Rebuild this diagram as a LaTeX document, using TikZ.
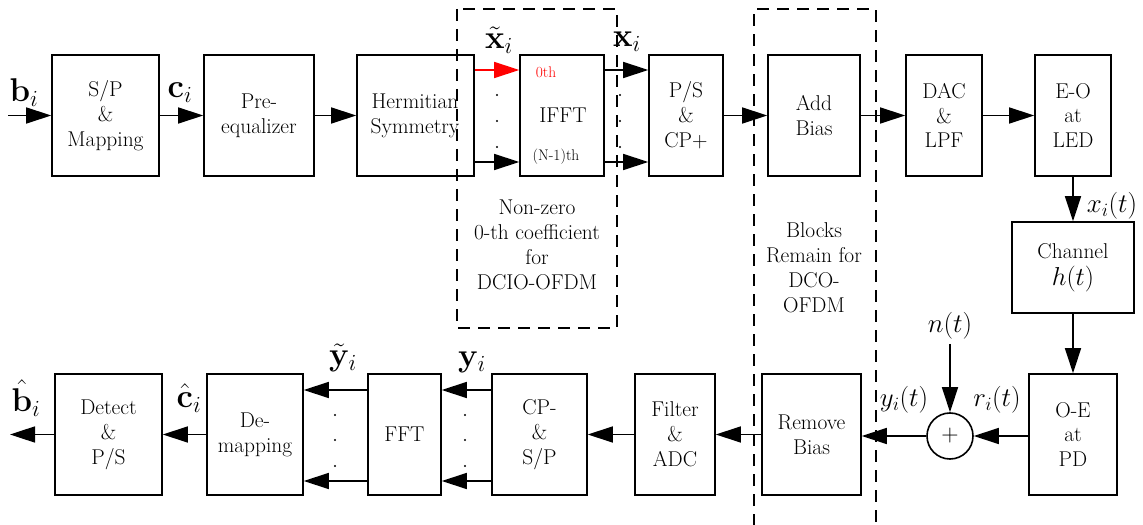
\documentclass[tikz,border=0pt]{standalone}
\usepackage{fix-cm}
\usetikzlibrary{arrows.meta}
\begin{document}
\begin{tikzpicture}[x=1bp,y=-1bp,
  blk/.style={draw,line width=1.6bp,inner sep=0pt,align=center,font=\fontsize{21.5}{25}\selectfont},
  arr/.style={line width=1.6bp,-{Triangle[length=25bp,width=16bp]}},
  lab/.style={inner sep=0pt,font=\fontsize{27}{32}\selectfont},
  blab/.style={inner sep=0pt,font=\fontsize{33}{38}\selectfont},
  small/.style={inner sep=0pt,font=\fontsize{15.5}{18}\selectfont},
  txt/.style={inner sep=0pt,align=center,font=\fontsize{21.5}{25}\selectfont},
  dbox/.style={line width=1.3bp,dash pattern=on 12bp off 8bp}]
\useasboundingbox (0,0) rectangle (1143,525);
% dashed boxes
\draw[dbox] (457,9) rectangle (617,328);
\draw[dbox] (754,526) -- (754,9) -- (876,9) -- (876,526);
% top row
\node[blk,minimum width=107bp,minimum height=121bp] (spm) at (105.5,115.5) {S/P\\\&\\Mapping};
\node[blk,minimum width=110bp,minimum height=121bp] (preeq) at (259,115.5) {Pre-\\equalizer};
\node[blk,minimum width=117bp,minimum height=121bp] (herm) at (415.5,115.5) {};
\node[txt] (hermt) at (415,115.5) {Hermitian\\Symmetry};
\node[blk,minimum width=84bp,minimum height=121bp] (ifft) at (562,115.5) {};
\node[txt] (iffttxt) at (563,115.5) {IFFT};
\node[small,text=red] (zeroth) at (546,72) {0th};
\node[small] (nth) at (556,157) {(N-1)th};
\node[blk,minimum width=74bp,minimum height=121bp] (ps) at (686,115.5) {P/S\\\&\\CP+};
\node[blk,minimum width=92bp,minimum height=121bp] (addb) at (814,115.5) {Add\\Bias};
\node[blk,minimum width=76bp,minimum height=121bp] (dac) at (944,115.5) {DAC\\\&\\LPF};
\node[blk,minimum width=76bp,minimum height=121bp] (eo) at (1073,115.5) {E-O\\at\\LED};
% right column
\node[blk,minimum width=122bp,minimum height=91bp] (chan) at (1073,267.5) {Channel\\[2bp]\fontsize{26}{30}\selectfont$h(t)$};
\node[blk,minimum width=88bp,minimum height=121bp] (oe) at (1073,434.5) {O-E\\at\\PD};
\node[draw,line width=1.6bp,circle,minimum size=46bp,inner sep=0pt] (sum) at (950,436) {};
\node[inner sep=0pt,font=\fontsize{24}{28}\selectfont] (plus) at (950,436) {$+$};
% bottom row
\node[blk,minimum width=99bp,minimum height=121bp] (rb) at (811.5,434.5) {Remove\\Bias};
\node[blk,minimum width=80bp,minimum height=121bp] (filt) at (675,434.5) {Filter\\\&\\ADC};
\node[blk,minimum width=95bp,minimum height=121bp] (cps) at (539.5,434.5) {CP-\\\&\\S/P};
\node[blk,minimum width=73bp,minimum height=121bp] (fft) at (404.5,434.5) {FFT};
\node[blk,minimum width=96bp,minimum height=121bp] (dem) at (255,434.5) {De-\\mapping};
\node[blk,minimum width=107bp,minimum height=121bp] (det) at (108.5,434.5) {Detect\\\&\\P/S};
% free ends
\coordinate (in) at (8,115.5);
\coordinate (out) at (10,434.5);
\coordinate (noise) at (950,344);
% top connectors
\draw[arr] (in) -- (spm.west);
\draw[arr] (spm.east) -- (preeq.west);
\draw[arr] (preeq.east) -- (herm.west);
\draw[arr,red] ([yshift=45.5bp]herm.east) -- ([yshift=45.5bp]ifft.west);
\draw[arr] ([yshift=-46.5bp]herm.east) -- ([yshift=-46.5bp]ifft.west);
\draw[arr] ([yshift=45.5bp]ifft.east) -- ([yshift=45.5bp]ps.west);
\draw[arr] ([yshift=-46.5bp]ifft.east) -- ([yshift=-46.5bp]ps.west);
\draw[arr] (ps.east) -- (addb.west);
\draw[arr] (addb.east) -- (dac.west);
\draw[arr] (dac.east) -- (eo.west);
\draw[arr] (eo.south) -- (chan.north);
\draw[arr] (chan.south) -- (oe.north);
\draw[arr] ([yshift=-1.5bp]oe.west) -- (sum.east);
\draw[arr] (noise) -- (sum.north);
\draw[arr] (sum.west) -- ([yshift=-1.5bp]rb.east);
\draw[arr] (rb.west) -- (filt.east);
\draw[arr] (filt.west) -- (cps.east);
\draw[arr] ([yshift=44.5bp]cps.west) -- ([yshift=44.5bp]fft.east);
\draw[arr] ([yshift=-46.5bp]cps.west) -- ([yshift=-46.5bp]fft.east);
\draw[arr] ([yshift=44.5bp]fft.west) -- ([yshift=44.5bp]dem.east);
\draw[arr] ([yshift=-46.5bp]fft.west) -- ([yshift=-46.5bp]dem.east);
\draw[arr] (dem.west) -- (det.east);
\draw[arr] (det.west) -- (out);
% dots
\foreach \yy in {95,121,147} {\fill (497,\yy) circle (1.1bp); \fill (620,\yy) circle (1.1bp);}
\foreach \yy in {415,440,466} {\fill (335,\yy) circle (1.1bp); \fill (465,\yy) circle (1.1bp);}
% labels
\node[blab] (lb) at (24,93) {$\mathbf{b}_i$};
\node[blab] (lc) at (180,93) {$\mathbf{c}_i$};
\node[blab] (lxt) at (499,40) {$\tilde{\mathbf{x}}_i$};
\node[blab] (lx) at (627,42) {$\mathbf{x}_i$};
\node[lab] (lxit) at (1112,206) {$x_i(t)$};
\node[lab] (ln) at (950,326) {$n(t)$};
\node[lab] (lr) at (997,400) {$r_i(t)$};
\node[lab] (ly) at (904,400) {$y_i(t)$};
\node[blab] (lyy) at (472,362) {$\mathbf{y}_i$};
\node[blab] (lyt) at (343,358) {$\tilde{\mathbf{y}}_i$};
\node[blab] (lch) at (189,398) {$\hat{\mathbf{c}}_i$};
\node[blab] (lbh) at (26,398) {$\hat{\mathbf{b}}_i$};
% notes
\node[txt] (note1) at (537,245) {Non-zero\\0-th coefficient\\for\\DCIO-OFDM};
\node[txt] (note2) at (814,268) {Blocks\\Remain for\\DCO-\\OFDM};
\end{tikzpicture}
\end{document}
